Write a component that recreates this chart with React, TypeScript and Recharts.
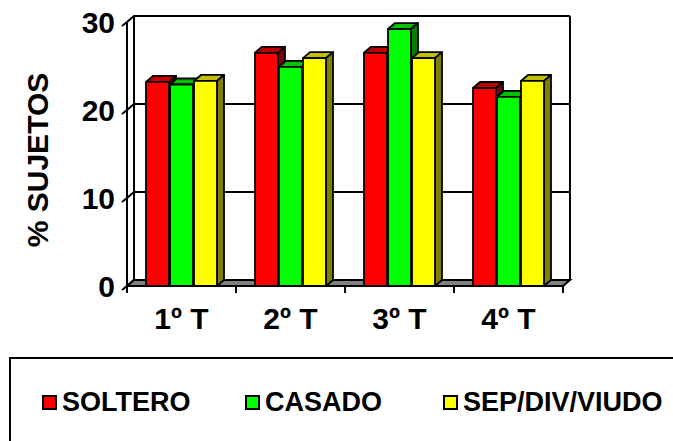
import React from "react";
import {
  BarChart,
  Bar,
  XAxis,
  YAxis,
  CartesianGrid,
  ReferenceArea,
} from "recharts";

const categories = ["1º T", "2º T", "3º T", "4º T"];
const soltero = [23.2, 26.5, 26.5, 22.5];
const casado = [22.9, 24.9, 29.2, 21.5];
const sepDivViudo = [23.3, 25.9, 25.9, 23.3];
const yTicks = [0, 10, 20, 30];

const series = [
  { key: "soltero", name: "SOLTERO", color: "#FF0000", top: "#C00000", side: "#800000" },
  { key: "casado", name: "CASADO", color: "#00FF00", top: "#00C000", side: "#008000" },
  { key: "sep", name: "SEP/DIV/VIUDO", color: "#FFFF00", top: "#C0C000", side: "#808000" },
];

const data = categories.map((name, i) => ({
  name,
  soltero: soltero[i],
  casado: casado[i],
  sep: sepDivViudo[i],
}));

// depth of the fake 3d effect
const DX = 7;
const DY = 6;
const FONT = "Arial, 'Liberation Sans', sans-serif";

const make3dBar = (top: string, side: string) => (props: any) => {
  const { x, y, width: w, height: h, fill } = props;
  if (h == null || w == null) return null;
  return (
    <g stroke="#000" strokeWidth={1.8} strokeLinejoin="round">
      <polygon points={`${x},${y} ${x + DX},${y - DY} ${x + w + DX},${y - DY} ${x + w},${y}`} fill={top} />
      <polygon points={`${x + w},${y} ${x + w + DX},${y - DY} ${x + w + DX},${y + h - DY} ${x + w},${y + h}`} fill={side} />
      <rect x={x} y={y} width={w} height={h} fill={fill} />
    </g>
  );
};

const BackWall = (props: any) => {
  const { x, y, width: w, height: h } = props;
  const bottom = y + h;
  const n = categories.length;
  return (
    <g stroke="#000" strokeWidth={2}>
      <line x1={x + DX} y1={y - DY} x2={x + DX} y2={bottom - DY} />
      <line x1={x + w + DX} y1={y - DY} x2={x + w + DX} y2={bottom - DY} />
      <polygon
        points={`${x},${bottom} ${x + w},${bottom} ${x + w + DX},${bottom - DY} ${x + DX},${bottom - DY}`}
        fill="#808080"
      />
      {categories.concat([""]).map((_, i) => (
        <line key={i} x1={x + (i * w) / n} y1={bottom} x2={x + (i * w) / n} y2={bottom + 7} />
      ))}
    </g>
  );
};

const gridLine = (p: any) => (
  <polyline
    key={p.key}
    points={`${p.x1},${p.y1} ${p.x1 + DX},${p.y1 - DY} ${p.x2 + DX},${p.y2 - DY}`}
    fill="none"
    stroke="#000"
    strokeWidth={2}
  />
);

const YTick = (props: any) => {
  const { x, y, payload } = props;
  const ax = x + 12;
  return (
    <g>
      <line x1={ax - 5} y1={y + 4} x2={ax} y2={y} stroke="#000" strokeWidth={2} />
      <text x={x} y={y} dy="0.36em" textAnchor="end" fontSize={30} fontWeight="bold" fontFamily={FONT} fill="#000">
        {payload.value}
      </text>
    </g>
  );
};

const XTick = (props: any) => {
  const { x, y, payload } = props;
  return (
    <text x={x} y={y} dy="0.71em" textAnchor="middle" fontSize={30} fontWeight="bold" fontFamily={FONT} fill="#000">
      {payload.value}
    </text>
  );
};

export default function App() {
  return (
    <div style={{ position: "absolute", left: 0, top: 0, width: 673, height: 441, overflow: "hidden", background: "#fff", fontFamily: FONT }}>
      <BarChart
        width={673}
        height={441}
        data={data}
        margin={{ top: 22, right: 110, left: 0, bottom: 95 }}
        barCategoryGap={19}
        barGap={1}
      >
        <ReferenceArea y1={0} y2={30} shape={BackWall} fill="none" />
        <CartesianGrid horizontal={gridLine} vertical={false} />
        <XAxis dataKey="name" axisLine={false} tickLine={false} tickSize={0} tickMargin={22} height={60} tick={XTick} interval={0} />
        <YAxis
          domain={[0, 30]}
          ticks={yTicks}
          width={127}
          tickLine={false}
          tickSize={6}
          tickMargin={6}
          axisLine={{ stroke: "#000", strokeWidth: 2 }}
          tick={YTick}
          interval={0}
        />
        {series.map((s) => (
          <Bar
            key={s.key}
            dataKey={s.key}
            name={s.name}
            fill={s.color}
            shape={make3dBar(s.top, s.side)}
            isAnimationActive={false}
          />
        ))}
      </BarChart>
      <svg style={{ position: "absolute", left: 0, top: 0 }} width={100} height={300}>
        <text
          x={48}
          y={160}
          transform="rotate(-90, 48, 160)"
          textAnchor="middle"
          fontSize={30}
          fontWeight="bold"
          fontFamily={FONT}
          fill="#000"
        >
          % SUJETOS
        </text>
      </svg>
      <div
        style={{
          position: "absolute",
          left: 9,
          top: 357,
          width: 700,
          height: 120,
          border: "2px solid #000",
          boxSizing: "border-box",
        }}
      >
        {series.map((s, i) => (
          <div
            key={s.key}
            style={{
              position: "absolute",
              left: [31, 234, 432][i],
              top: 28,
              display: "flex",
              alignItems: "center",
              fontSize: 27,
              fontWeight: "bold",
              lineHeight: "30px",
              color: "#000",
              whiteSpace: "nowrap",
            }}
          >
            <span
              style={{
                display: "inline-block",
                width: 11,
                height: 11,
                background: s.color,
                border: "2px solid #000",
                marginRight: 5,
              }}
            />
            {s.name}
          </div>
        ))}
      </div>
    </div>
  );
}
